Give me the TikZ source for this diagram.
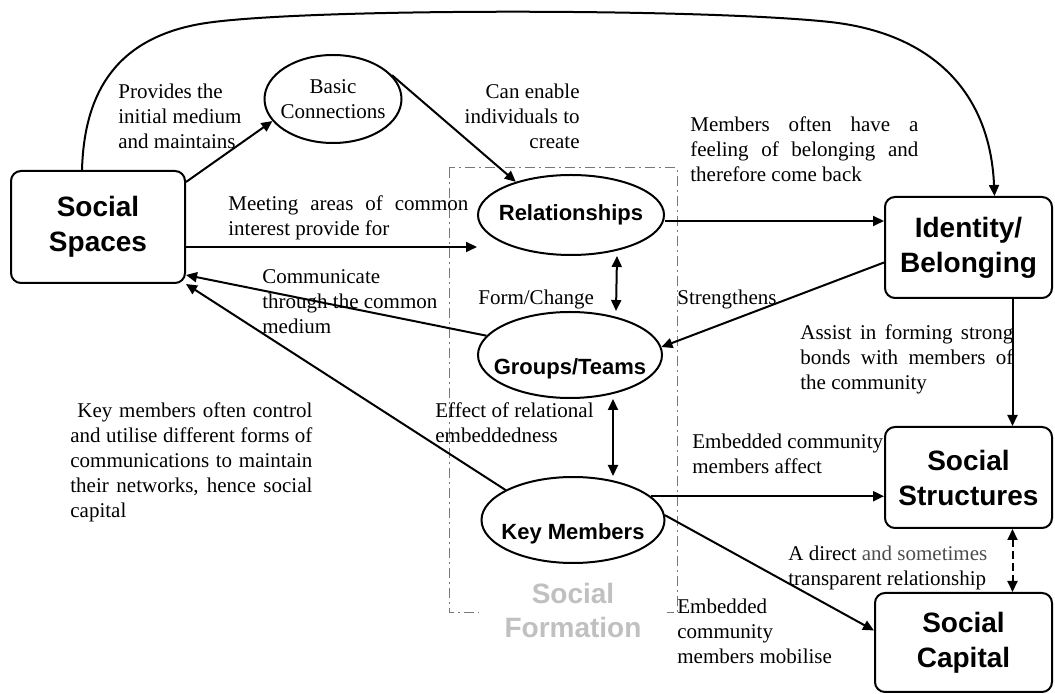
\documentclass[tikz,border=0pt]{standalone}
\usepackage{fontspec}
\setmainfont{Liberation Serif}
\setsansfont{Liberation Sans}
\usetikzlibrary{positioning,arrows.meta,shapes.geometric}
\definecolor{formgray}{RGB}{192,192,192}
\definecolor{framegray}{RGB}{120,120,120}
\tikzset{
  bigbox/.style={draw,line width=1pt,rounded corners=5pt,align=center,
    font=\sffamily\bfseries\fontsize{14}{17.5}\selectfont,
    minimum width=83.5pt,minimum height=50.5pt},
  oval/.style={draw,ellipse,line width=1pt,inner xsep=-8pt,inner ysep=0pt},
  ovaltext/.style={font=\sffamily\bfseries\fontsize{11}{13}\selectfont},
  note/.style={inner sep=0pt,anchor=north west,align=left,
    font=\fontsize{10.5}{12.5}\selectfont},
  arr/.style={line width=1pt,-{Triangle[length=5.5pt,width=5pt]}},
  dbl/.style={line width=1pt,{Triangle[length=5.5pt,width=5pt]}-{Triangle[length=5.5pt,width=5pt]}},
}
\begin{document}
\begin{tikzpicture}[x=0.5pt,y=-0.5pt]
  \useasboundingbox (0,0) rectangle (1055,694);

  % social formation frame
  \draw[framegray,line width=0.5pt,dash pattern=on 5pt off 2pt on 1pt off 2pt]
    (449,168) rectangle (677,613);
  \node[fill=white,text=formgray,align=center,minimum width=94pt,
    font=\sffamily\bfseries\fontsize{14}{17}\selectfont] (sform) at (573,610) {Social\\Formation};

  % boxes
  \node[bigbox,minimum width=87pt,minimum height=56pt] (sspace) at (98,227) {Social\\Spaces};
  \node[bigbox] (ident) at (968.5,247.5) {Identity/\\Belonging};
  \node[bigbox] (sstruct) at (968.5,477.5) {Social\\Structures};
  \node[bigbox,minimum width=88.5pt,minimum height=49.5pt] (scap) at (963.5,642.5) {Social\\Capital};

  % ovals
  \node[oval,align=center,minimum width=68.5pt,minimum height=44pt,
    font=\fontsize{10.5}{12.5}\selectfont] (basic) at (333,99) {Basic\\Connections};
  \node[oval,ovaltext,minimum width=93pt,minimum height=40pt] (rel) at (571,215) {Relationships};
  \node[oval,ovaltext,minimum width=92pt,minimum height=43pt,text height=22pt] (grp) at (570,355) {Groups/Teams};
  \node[oval,ovaltext,minimum width=91.5pt,minimum height=43pt,text height=22pt] (key) at (573,520) {Key Members};

  % labels
  \node[note] (provtxt) at (118,84) {Provides the\\initial medium\\and maintains};
  \node[note,anchor=north east,align=right] (canen) at (580,84) {Can enable\\individuals to\\create};
  \node[note,text width=114pt,align=justify] (membtxt) at (690,116)
    {Members often have a\linebreak feeling of belonging and\linebreak therefore come back};
  \node[note,text width=120pt,align=justify] (meettxt) at (228,195)
    {Meeting areas of common\linebreak interest provide for};
  \node[note] (commtxt) at (262,269) {Communicate\\through the common\\medium};
  \node[note] (formtxt) at (478,290) {Form/Change};
  \node[note] (strtxt) at (677,290) {Strengthens};
  \node[note,text width=106.5pt,align=justify] (asstxt) at (800,324)
    {Assist in forming strong\linebreak bonds with members of\linebreak the community};
  \node[note,text width=121pt,align=justify] (keytxt) at (70,402)
    {\hspace*{3.5pt}Key members often control\linebreak and utilise different forms of\linebreak
     communications to maintain\linebreak their networks, hence social\linebreak capital};
  \node[note] (efftxt) at (435,402) {Effect of relational\\embeddedness};
  \node[note] (afftxt) at (692,434) {Embedded community\\members affect};
  \node[note] (dirtxt) at (788,546) {A direct {\color{black!70}and sometimes}\\transparent relationship};
  \node[note] (mobtxt) at (677,599) {Embedded\\community\\members mobilise};

  % connectors
  \draw[arr] ([xshift=-8pt]sspace.north) .. controls (84,100) and (110,40) .. (200,24)
    .. controls (290,8) and (700,8) .. (830,22)
    .. controls (930,33) and (990,90) .. ([xshift=13pt]ident.north);
  \draw[arr] ([yshift=-6pt]sspace.north east) -- (basic.200);
  \draw[arr] (basic.22) -- (rel.149);
  \draw[arr] ([yshift=-10pt]sspace.east) -- ([yshift=-10pt]sspace.east -| rel.west);
  \draw[arr] (grp.167) -- ([yshift=-24pt]sspace.east);
  \draw[arr] (key.156) -- (sspace.south east);
  \draw[arr] ([yshift=-3pt]rel.east) -- ([yshift=-3pt]rel.east -| ident.west);
  \draw[arr] ([yshift=-7.5pt]ident.west) -- (grp.5);
  \draw[dbl] ([xshift=23pt]rel.south) -- ([xshift=23pt]grp.north);
  \draw[dbl] ([xshift=21.5pt]grp.south) -- ([xshift=21.5pt]grp.south |- key.north);
  \draw[arr] ([xshift=22pt]ident.south) -- ([xshift=22pt]sstruct.north);
  \draw[arr] (key.17) -- (key.17 -| sstruct.west);
  \draw[arr] (key.3) -- ([yshift=6pt]scap.west);
  \draw[dbl,dash pattern=on 4pt off 2pt] ([xshift=22pt]sstruct.south)
    -- ([xshift=22pt]sstruct.south |- scap.north);
\end{tikzpicture}
\end{document}
